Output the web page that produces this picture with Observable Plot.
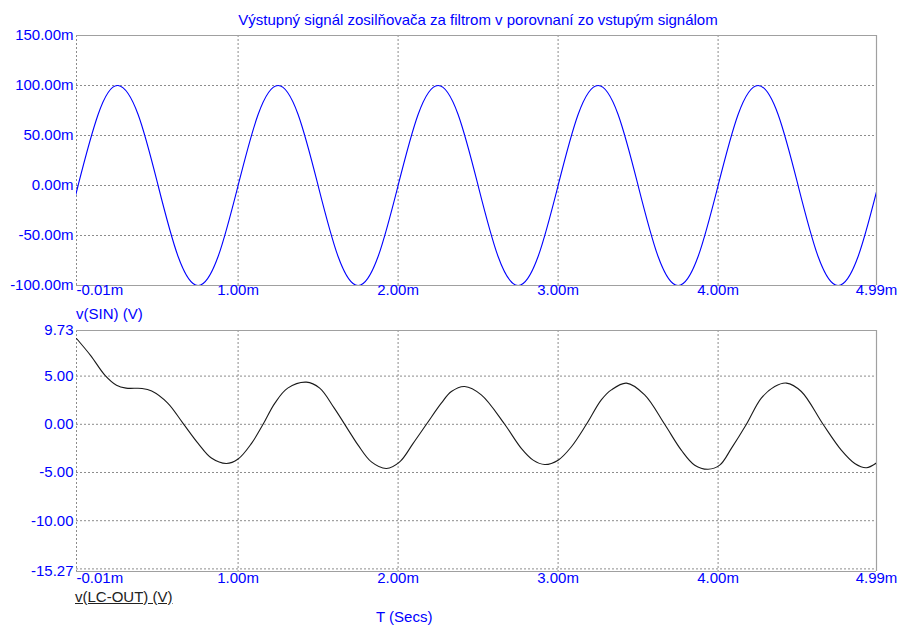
<!DOCTYPE html>
<html>
<head>
<meta charset="utf-8">
<script src="https://cdn.jsdelivr.net/npm/d3@7"></script>
<script src="https://cdn.jsdelivr.net/npm/@observablehq/plot@0.6"></script>
<style>
  body { margin: 0; background: #fff; }
  #chart { position: relative; width: 901px; height: 627px; overflow: hidden;
           font-family: "Liberation Sans", Arial, sans-serif; }
  #chart svg { position: absolute; left: 0; }
  .t { position: absolute; white-space: nowrap; font-size: 15px; line-height: 15px; }
</style>
</head>
<body>
<div id="chart">
  <div class="t" id="title" style="left:478px; top:12px; transform:translateX(-50%); color:#0000ff;">Výstupný signál zosilňovača za filtrom v porovnaní zo vstupým signálom</div>
  <div class="t" style="left:76px; top:306px; color:#0000ff;">v(SIN) (V)</div>
  <div class="t" style="left:75px; top:589px; color:#222; text-decoration:underline;">v(LC-OUT) (V)</div>
  <div class="t" style="left:376px; top:609px; color:#0000ff;">T (Secs)</div>
</div>
<script>
// Input sine v(SIN), time in ms, value in mV
const sinT = [-0.01, 0, 0.125, 0.25, 0.375, 0.5, 0.625, 0.75, 0.875,
  1, 1.125, 1.25, 1.375, 1.5, 1.625, 1.75, 1.875,
  2, 2.125, 2.25, 2.375, 2.5, 2.625, 2.75, 2.875,
  3, 3.125, 3.25, 3.375, 3.5, 3.625, 3.75, 3.875,
  4, 4.125, 4.25, 4.375, 4.5, 4.625, 4.75, 4.875, 5];
const sinV = [-6, 0, 71, 100, 71, 0, -71, -100, -71,
  0, 71, 100, 71, 0, -71, -100, -71,
  0, 71, 100, 71, 0, -71, -100, -71,
  0, 71, 100, 71, 0, -71, -100, -71,
  0, 71, 100, 71, 0, -71, -100, -71, 0];

// Filter output v(LC-OUT), time in ms, value in V
const lcT = [-0.01, 0.08, 0.167, 0.24, 0.30, 0.40, 0.46, 0.56, 0.656, 0.75, 0.833, 0.927,
  1.0, 1.083, 1.156, 1.23, 1.31, 1.427, 1.51, 1.60, 1.708, 1.75, 1.833, 1.927,
  2.01, 2.094, 2.177, 2.27, 2.333, 2.416, 2.52, 2.666, 2.77, 2.844, 2.916,
  3.0, 3.083, 3.177, 3.27, 3.333, 3.427, 3.541, 3.666, 3.77, 3.854, 3.937,
  4.01, 4.083, 4.177, 4.27, 4.354, 4.427, 4.52, 4.656, 4.77, 4.854, 4.927, 4.99];
const lcV = [8.9, 7.1, 5.1, 4.05, 3.75, 3.72, 3.45, 2.2, 0.1, -1.98, -3.5, -4.06,
  -3.6, -2.0, 0, 2.2, 3.75, 4.37, 3.75, 1.7, -1.1, -2.16, -3.9, -4.58,
  -3.9, -1.98, 0, 2.19, 3.4, 3.92, 3.05, 0, -2.5, -3.72, -4.17,
  -3.72, -2.33, 0, 2.53, 3.57, 4.27, 3.05, 0, -2.68, -4.24, -4.66,
  -4.24, -2.5, 0, 2.71, 3.92, 4.27, 3.4, 0, -2.68, -4.06, -4.5, -4.0];

// Axes
const xDomain = [-0.01, 4.99];
const xTicks = [-0.01, 1, 2, 3, 4, 4.99];
const sinYDomain = [-100, 150];
const sinYTicks = [150, 100, 50, 0, -50, -100];
const lcYDomain = [-15.27, 9.73];
const lcYGrid = [5, 0, -5, -10, -15];
const lcYLabels = [9.73, 5, 0, -5, -10, -15.27];

const BLUE = "#0000ff";
const GRID = "#8c8c8c";
const FRAME = "#a0a0a0";
const FONT = '"Liberation Sans", Arial, sans-serif';

function panel({data, stroke, curve, yDomain, yGrid, yLabels, yFmt, height, marginBottom, labelDy}) {
  return Plot.plot({
    width: 901, height,
    marginLeft: 76, marginRight: 25, marginTop: 10, marginBottom,
    x: {domain: xDomain, axis: null},
    y: {domain: yDomain, axis: null},
    style: {fontFamily: FONT, overflow: "visible", background: "transparent"},
    marks: [
      // dotted grid
      Plot.ruleX(xTicks.slice(0, 5), {stroke: GRID, strokeDasharray: "2,2", strokeWidth: 1}),
      Plot.ruleY(yGrid, {stroke: GRID, strokeDasharray: "2,2", strokeWidth: 1}),
      // solid frame (top, right, bottom)
      Plot.ruleY([yDomain[1]], {stroke: FRAME, strokeWidth: 1.2}),
      Plot.ruleY([yDomain[0]], {stroke: FRAME, strokeWidth: 1.2}),
      Plot.ruleX([xDomain[1]], {stroke: FRAME, strokeWidth: 1.2}),
      // waveform
      Plot.line(data, {x: "t", y: "v", stroke, strokeWidth: 1.1, curve, clip: true}),
      // y tick labels
      Plot.text(yLabels, {y: d => d, text: yFmt, frameAnchor: "left", textAnchor: "end",
        dx: -3, fill: BLUE, fontSize: 15}),
      // x tick labels
      Plot.text([xTicks[0]], {x: d => d, text: d => d.toFixed(2) + "m", frameAnchor: "bottom",
        textAnchor: "start", dy: labelDy, fill: BLUE, fontSize: 15, ariaLabel: "x-tick-label"}),
      Plot.text(xTicks.slice(1), {x: d => d, text: d => d.toFixed(2) + "m", frameAnchor: "bottom",
        textAnchor: "middle", dy: labelDy, fill: BLUE, fontSize: 15, ariaLabel: "x-tick-label"})
    ]
  });
}

// Tick labels sit on a white box that interrupts the bottom frame line
function cutAxis(svg, axisY) {
  const sb = svg.getBoundingClientRect();
  svg.querySelectorAll('g[aria-label="x-tick-label"]').forEach(g => {
    const boxes = document.createElementNS("http://www.w3.org/2000/svg", "g");
    g.querySelectorAll("text").forEach(t => {
      const tb = t.getBoundingClientRect();
      const r = document.createElementNS("http://www.w3.org/2000/svg", "rect");
      r.setAttribute("x", tb.left - sb.left);
      r.setAttribute("width", tb.width);
      r.setAttribute("y", axisY - 1.5);
      r.setAttribute("height", 3);
      r.setAttribute("fill", "#fff");
      boxes.appendChild(r);
    });
    g.parentNode.insertBefore(boxes, g);
  });
}

const chart = document.getElementById("chart");

const sinPanel = panel({
  data: sinT.map((t, i) => ({t, v: sinV[i]})),
  stroke: "#0000ff", curve: "natural",
  yDomain: sinYDomain, yGrid: sinYTicks.slice(1, 5), yLabels: sinYTicks,
  yFmt: d => d.toFixed(2) + "m",
  height: 280, marginBottom: 20, labelDy: 9
});
sinPanel.style.top = "25px";
chart.appendChild(sinPanel);
cutAxis(sinPanel, 280 - 20);

const lcPanel = panel({
  data: lcT.map((t, i) => ({t, v: lcV[i]})),
  stroke: "#1a1a1a", curve: "catmull-rom",
  yDomain: lcYDomain, yGrid: lcYGrid, yLabels: lcYLabels,
  yFmt: d => d.toFixed(2),
  height: 273, marginBottom: 22, labelDy: 11
});
lcPanel.style.top = "320px";
chart.appendChild(lcPanel);
cutAxis(lcPanel, 273 - 22);
</script>
</body>
</html>
